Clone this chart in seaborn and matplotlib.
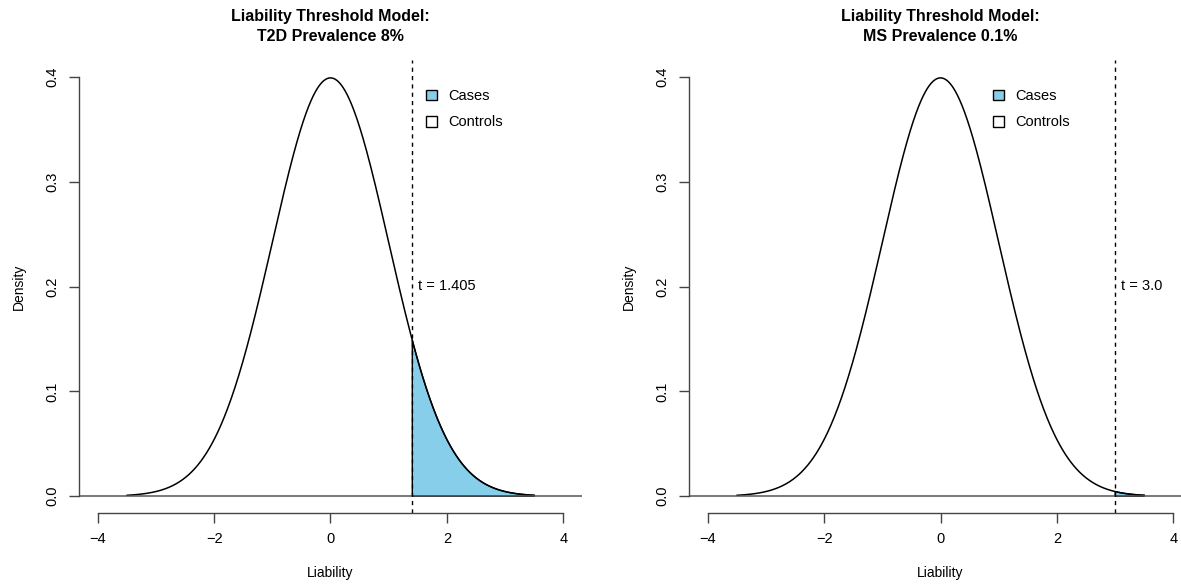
import numpy as np
import seaborn as sns
import matplotlib.pyplot as plt
from matplotlib.patches import Patch

sns.set_style("white")
plt.rcParams['font.family'] = ['Liberation Sans', 'DejaVu Sans']
plt.rcParams['text.color'] = 'black'
plt.rcParams['axes.labelcolor'] = 'black'
plt.rcParams['xtick.labelcolor'] = 'black'
plt.rcParams['ytick.labelcolor'] = 'black'

# two panels: standard normal liability, different thresholds
titles = ['Liability Threshold Model:\nT2D Prevalence 8%',
          'Liability Threshold Model:\nMS Prevalence 0.1%']
thresholds = [1.405, 3.0]
threshold_labels = ['t = 1.405', 't = 3.0']
liability_min, liability_max = -3.5, 3.5
x_ticks = [-4, -2, 0, 2, 4]
y_ticks = [0.0, 0.1, 0.2, 0.3, 0.4]
legend_labels = ['Cases', 'Controls']

liability = np.linspace(liability_min, liability_max, 701)
density = np.exp(-liability ** 2 / 2) / np.sqrt(2 * np.pi)

W, H = 1181, 584
fig = plt.figure(figsize=(W / 100, H / 100), dpi=100)
legend_px = [(426, 89), (993, 89)]

for i in range(2):
    t = thresholds[i]
    ax = fig.add_axes([(79 + 610 * i) / W, 1 - 513 / H, 503 / W, 453 / H])
    sns.lineplot(x=liability, y=density, ax=ax, color='black', lw=1.1)

    # shaded tail (cases)
    mask = liability > t
    xs = np.r_[t, t, liability[mask], liability[mask][-1]]
    ys = np.r_[0, np.exp(-t ** 2 / 2) / np.sqrt(2 * np.pi), density[mask], 0]
    ax.fill(xs, ys, facecolor='skyblue', edgecolor='black', lw=1.0)

    ax.axhline(0, color='#555555', lw=1.1)
    ax.axvline(t, color='black', lw=1.0, ls=(0, (3, 3)))
    ax.text(t + 0.1, 0.2, threshold_labels[i], va='center', ha='left', fontsize=10.5)

    ax.set_xlim(-4.32, 4.32)
    ax.set_ylim(-0.016, 0.416)
    ax.set_xticks(x_ticks)
    ax.set_xticklabels(['\u22124', '\u22122', '0', '2', '4'])
    ax.set_yticks(y_ticks)
    ax.set_yticklabels(['0.0', '0.1', '0.2', '0.3', '0.4'], rotation=90, va='center')
    for s in ['top', 'right']:
        ax.spines[s].set_visible(False)
    ax.spines['left'].set_bounds(0, 0.4)
    ax.spines['bottom'].set_bounds(-4, 4)
    for s in ['left', 'bottom']:
        ax.spines[s].set_color('#444444')
        ax.spines[s].set_linewidth(1.0)
    ax.tick_params(direction='out', length=7, width=1.0, color='#444444',
                   labelsize=10.5, pad=7, left=True, bottom=True)
    ax.set_xlabel('Liability', fontsize=10, labelpad=14)
    ax.set_ylabel('Density', fontsize=10, labelpad=14)
    ax.set_title(titles[i], fontsize=11.5, fontweight='bold', pad=14, linespacing=1.4)

    handles = [Patch(facecolor='skyblue', edgecolor='black', lw=1.0),
               Patch(facecolor='white', edgecolor='black', lw=1.0)]
    lx, ly = legend_px[i]
    ax.legend(handles, legend_labels, loc='upper left', bbox_to_anchor=(lx / W, 1 - ly / H),
              bbox_transform=fig.transFigure, frameon=False, fontsize=10.5,
              handlelength=0.75, handleheight=0.75, handletextpad=0.8,
              labelspacing=0.85, borderpad=0, borderaxespad=0)

fig.savefig('out.png', dpi=100)
